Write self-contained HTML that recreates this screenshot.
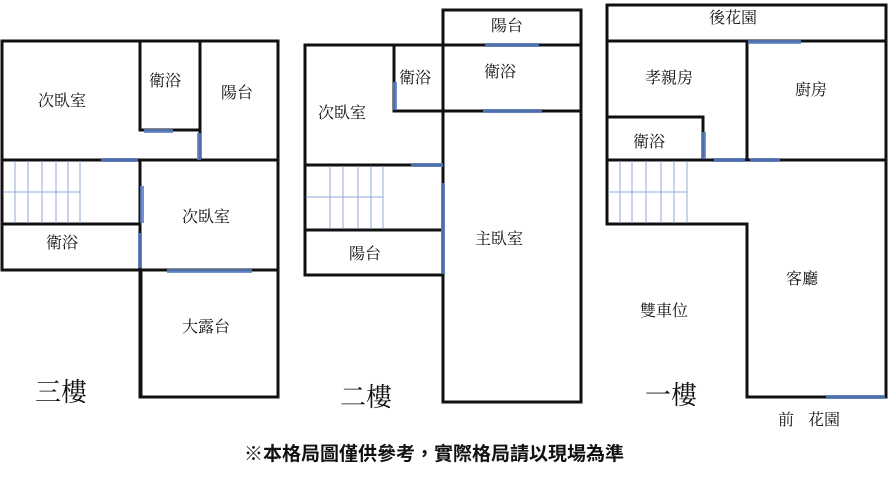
<!DOCTYPE html>
<html><head><meta charset="utf-8"><style>
html,body{margin:0;padding:0;background:#fff;}
svg{display:block;}
text{font-family:"Liberation Serif","Noto Serif CJK SC","Noto Sans CJK TC",serif;fill:#111;}
</style></head><body>
<svg width="889" height="479" viewBox="0 0 889 479" xmlns="http://www.w3.org/2000/svg">
<g stroke="#111" stroke-width="3" fill="none" stroke-linecap="square">
<path d="M2 41 H278 V397 H141 V270 H2 Z"/>
<path d="M140 41 V130 H200 M200 41 V160 M2 160 H278 M2 224 H140 M140 160 V397 M2 270 H278"/>
<path d="M443 10 H581 V402 H443 V10 M305 45 H581 M305 45 V275 H443"/>
<path d="M394 45 V111 H581 M305 165 H443 M305 230 H443"/>
<path d="M607 5 H886 V397 H747 V224 H607 Z M607 41 H886 M747 41 V160 M607 160 H886 M607 117 H703 V160"/>
</g>
<g stroke="#8fa9d8" stroke-width="1">
<path d="M3 192 H80 M15 161 V223 M28 161 V223 M42 161 V223 M56 161 V223 M68 161 V223 M80 161 V223"/>
<path d="M306 197 H383 M330 166 V229 M343 166 V229 M358 166 V229 M371 166 V229 M383 166 V229"/>
<path d="M608 192 H687 M620 161 V223 M632 161 V223 M646 161 V223 M661 161 V223 M674 161 V223 M687 161 V223"/>
</g>
<g stroke="#5b7fc4" stroke-width="4" opacity="0.85">
<path d="M144 131 H173 M199 133 V160 M101 160 H138 M142 186 V223 M140 233 V268 M167 271 H252"/>
<path d="M485 45 H539 M483 111 H542 M395 82 V110 M411 165 H443 M443 183 V274"/>
<path d="M748 42 H801 M704 132 V159 M714 160 H745 M750 160 H780 M826 397 H885"/>
</g>
<g font-size="16">
<text x="38" y="106">次臥室</text>
<text x="149" y="86">衛浴</text>
<text x="221" y="98">陽台</text>
<text x="182" y="222">次臥室</text>
<text x="46" y="248">衛浴</text>
<text x="182" y="332">大露台</text>
<text x="491" y="31">陽台</text>
<text x="399" y="83">衛浴</text>
<text x="484" y="77">衛浴</text>
<text x="318" y="118">次臥室</text>
<text x="349" y="259">陽台</text>
<text x="475" y="244">主臥室</text>
<text x="709" y="23">後花園</text>
<text x="645" y="83">孝親房</text>
<text x="795" y="95">廚房</text>
<text x="633" y="147">衛浴</text>
<text x="786" y="284">客廳</text>
<text x="640" y="316">雙車位</text>
<text x="778" y="425">前</text>
<text x="808" y="425">花園</text>
</g>
<g font-size="26">
<text x="35" y="401">三樓</text>
<text x="340" y="406">二樓</text>
<text x="645" y="404">一樓</text>
</g>
<text x="434" y="460" font-size="19" font-weight="bold" text-anchor="middle" style="font-family:'Liberation Sans','Noto Sans CJK TC',sans-serif">※本格局圖僅供參考，實際格局請以現場為準</text>
</svg>
</body></html>
